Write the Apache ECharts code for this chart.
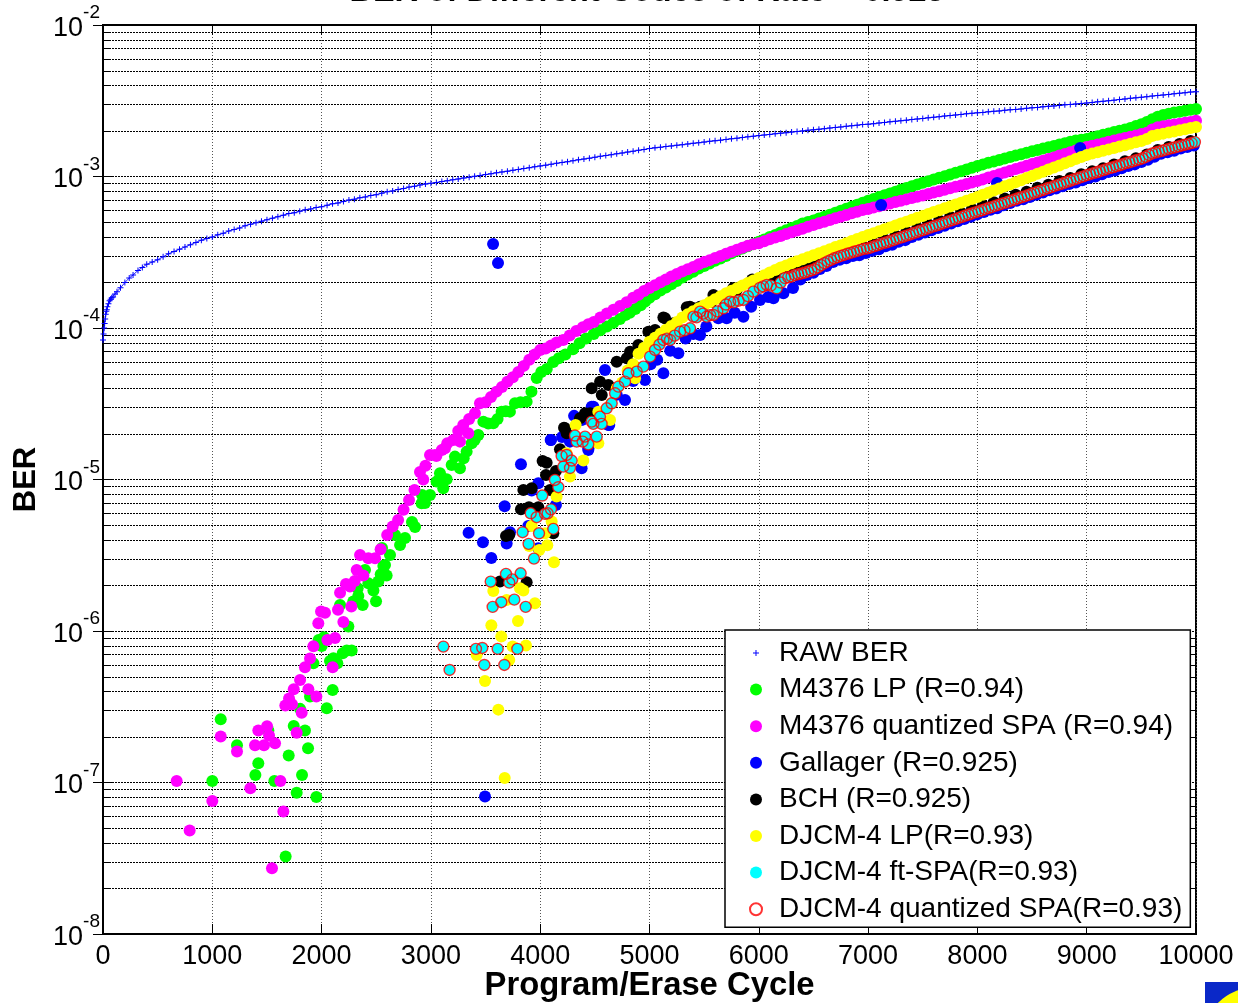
<!DOCTYPE html>
<html>
<head>
<meta charset="utf-8">
<style>html,body{margin:0;padding:0;background:#fff}#c{width:1238px;height:1003px}</style>
<script src="https://cdn.jsdelivr.net/npm/echarts@6/dist/echarts.min.js"></script>
</head>
<body>
<div id="c"></div>
<script>
// All BER values below are stored as log10(BER).
const seriesNames = ['RAW BER','M4376 LP (R=0.94)','M4376 quantized SPA (R=0.94)','Gallager (R=0.925)','BCH (R=0.925)','DJCM-4 LP(R=0.93)','DJCM-4 ft-SPA(R=0.93)','DJCM-4 quantized SPA(R=0.93)'];
const minorGridValues = [2e-8,3e-8,4e-8,5e-8,6e-8,7e-8,8e-8,9e-8,2e-7,3e-7,4e-7,5e-7,6e-7,7e-7,8e-7,9e-7,2e-6,3e-6,4e-6,5e-6,6e-6,7e-6,8e-6,9e-6,2e-5,3e-5,4e-5,5e-5,6e-5,7e-5,8e-5,9e-5,2e-4,3e-4,4e-4,5e-4,6e-4,7e-4,8e-4,9e-4,2e-3,3e-3,4e-3,5e-3,6e-3,7e-3,8e-3,9e-3];

const denseX = [5000,5050,5100,5150,5200,5250,5300,5350,5400,5450,5500,5550,5600,5650,5700,5750,5800,5850,5900,5950,6000,6050,6100,6150,6200,6250,6300,6350,6400,6450,6500,6550,6600,6650,6700,6750,6800,6850,6900,6950,7000,7050,7100,7150,7200,7250,7300,7350,7400,7450,7500,7550,7600,7650,7700,7750,7800,7850,7900,7950,8000,8050,8100,8150,8200,8250,8300,8350,8400,8450,8500,8550,8600,8650,8700,8750,8800,8850,8900,8950,9000,9050,9100,9150,9200,9250,9300,9350,9400,9450,9500,9550,9600,9650,9700,9750,9800,9850,9900,9950,10000];

const rawLow = [[0,-4.08],[5,-4.04],[10,-4.0],[15,-3.97],[20,-3.94],[25,-3.91],[30,-3.89],[35,-3.88],[40,-3.86],[50,-3.84],[60,-3.82],[70,-3.81],[80,-3.80],[92,-3.795],[110,-3.775],[128,-3.76],[160,-3.735],[200,-3.70],[240,-3.67],[275,-3.65],[320,-3.62],[360,-3.60],[400,-3.58],[450,-3.565],[500,-3.55],[550,-3.53],[600,-3.51],[650,-3.495],[700,-3.48],[750,-3.465],[800,-3.45],[850,-3.435],[900,-3.42],[950,-3.41],[1000,-3.40],[1050,-3.385],[1100,-3.375],[1150,-3.36],[1200,-3.35],[1250,-3.34],[1300,-3.325],[1350,-3.315],[1400,-3.305],[1450,-3.295],[1500,-3.285],[1550,-3.275],[1600,-3.265],[1650,-3.255],[1700,-3.245],[1750,-3.24],[1800,-3.23],[1850,-3.22],[1900,-3.215],[1950,-3.205],[2000,-3.20],[2050,-3.19],[2100,-3.18],[2150,-3.175],[2200,-3.165],[2250,-3.155],[2300,-3.15],[2350,-3.14],[2400,-3.135],[2450,-3.125],[2500,-3.12],[2550,-3.11],[2600,-3.10],[2650,-3.095],[2700,-3.085],[2750,-3.08],[2800,-3.07],[2850,-3.065],[2900,-3.056],[2950,-3.05],[3000,-3.045],[3050,-3.04],[3100,-3.033],[3150,-3.028],[3200,-3.022],[3250,-3.016],[3300,-3.01],[3350,-3.005],[3400,-2.999],[3450,-2.993],[3500,-2.987],[3550,-2.982],[3600,-2.976],[3650,-2.97],[3700,-2.965],[3750,-2.959],[3800,-2.953],[3850,-2.948],[3900,-2.942],[3950,-2.936],[4000,-2.93],[4050,-2.925],[4100,-2.919],[4150,-2.913],[4200,-2.907],[4250,-2.902],[4300,-2.896],[4350,-2.89],[4400,-2.885],[4450,-2.879],[4500,-2.873],[4550,-2.867],[4600,-2.862],[4650,-2.856],[4700,-2.85],[4750,-2.845],[4800,-2.839],[4850,-2.833],[4900,-2.827],[4950,-2.822]];
const rawDense = [-2.815,-2.811,-2.807,-2.802,-2.798,-2.794,-2.79,-2.785,-2.781,-2.777,-2.773,-2.768,-2.764,-2.76,-2.755,-2.751,-2.747,-2.743,-2.738,-2.734,-2.73,-2.726,-2.722,-2.718,-2.714,-2.711,-2.707,-2.703,-2.699,-2.695,-2.692,-2.688,-2.684,-2.68,-2.676,-2.673,-2.669,-2.665,-2.661,-2.657,-2.655,-2.651,-2.647,-2.643,-2.639,-2.636,-2.632,-2.628,-2.624,-2.62,-2.617,-2.613,-2.609,-2.605,-2.601,-2.598,-2.594,-2.59,-2.586,-2.583,-2.58,-2.577,-2.573,-2.57,-2.567,-2.563,-2.56,-2.557,-2.554,-2.55,-2.547,-2.544,-2.54,-2.537,-2.534,-2.531,-2.527,-2.524,-2.521,-2.518,-2.515,-2.511,-2.507,-2.504,-2.5,-2.496,-2.492,-2.488,-2.484,-2.481,-2.477,-2.473,-2.469,-2.465,-2.462,-2.458,-2.454,-2.45,-2.447,-2.443,-2.44];

const greenLow = [[1077,-6.583],[1226,-6.754],[1000,-6.990],[1421,-6.873],[1394,-6.950],[1568,-6.990],[1699,-6.822],[1772,-7.067],[1952,-7.095],[1821,-6.950],[1876,-6.774],[1745,-6.627],[1848,-6.657],[1803,-6.514],[2047,-6.510],[2101,-6.389],[1894,-6.433],[1671,-7.489],[1513,-6.657],[1925,-6.213],[2108,-6.180],[2077,-6.198],[2144,-6.213],[2193,-6.147],[2230,-6.129],[2275,-6.129],[1973,-6.059],[2022,-6.041],[2001,-6.099],[2245,-5.971],[2169,-5.828],[2290,-5.806],[2376,-5.828],[2498,-5.804],[2336,-5.769],[2330,-5.718],[2474,-5.733],[2428,-5.685],[2519,-5.674],[2397,-5.597],[2565,-5.571],[2595,-5.634],[2541,-5.626],[2580,-5.564],[2553,-5.452],[2626,-5.498],[2718,-5.432],[2763,-5.386],[2672,-5.366],[2827,-5.281],[2855,-5.314],[2946,-5.155],[2919,-5.102],[2915,-5.157],[2992,-5.102],[3052,-5.014],[3083,-4.959],[3144,-4.999],[3113,-5.058],[3190,-4.904],[3266,-4.926],[3220,-4.849],[3300,-4.86],[3327,-4.816],[3373,-4.761],[3400,-4.74],[3434,-4.706],[3480,-4.618],[3525,-4.63],[3571,-4.629],[3610,-4.60],[3647,-4.552],[3685,-4.55],[3723,-4.552],[3769,-4.497],[3820,-4.49],[3876,-4.486],[3920,-4.42],[3968,-4.33],[4010,-4.29],[4060,-4.27],[4120,-4.225],[4170,-4.20],[4230,-4.175],[4300,-4.14],[4360,-4.10],[4420,-4.07],[4490,-4.04],[4550,-4.015],[4610,-3.99],[4670,-3.965],[4730,-3.94],[4780,-3.915],[4820,-3.90],[4870,-3.875],[4920,-3.85],[4960,-3.825]];
const greenDense = [-3.80,-3.778,-3.752,-3.733,-3.712,-3.69,-3.667,-3.647,-3.628,-3.608,-3.59,-3.574,-3.556,-3.541,-3.524,-3.507,-3.49,-3.476,-3.46,-3.446,-3.43,-3.416,-3.40,-3.386,-3.37,-3.354,-3.34,-3.326,-3.31,-3.30,-3.29,-3.278,-3.265,-3.252,-3.24,-3.226,-3.213,-3.2,-3.187,-3.174,-3.16,-3.148,-3.136,-3.124,-3.112,-3.10,-3.088,-3.076,-3.064,-3.053,-3.042,-3.031,-3.02,-3.009,-2.998,-2.987,-2.976,-2.965,-2.954,-2.942,-2.93,-2.92,-2.91,-2.901,-2.891,-2.881,-2.872,-2.862,-2.853,-2.843,-2.834,-2.825,-2.816,-2.807,-2.798,-2.789,-2.78,-2.771,-2.763,-2.757,-2.752,-2.743,-2.734,-2.725,-2.716,-2.707,-2.698,-2.689,-2.68,-2.667,-2.655,-2.64,-2.622,-2.606,-2.594,-2.585,-2.578,-2.572,-2.566,-2.56,-2.555];

const magentaLow = [[674,-6.990],[1077,-6.697],[1226,-6.796],[1000,-7.122],[793,-7.317],[1546,-7.566],[1650,-7.192],[1348,-7.038],[1623,-6.990],[1391,-6.754],[1473,-6.754],[1574,-6.741],[1519,-6.690],[1421,-6.657],[1501,-6.629],[1772,-6.671],[1818,-6.539],[1668,-6.492],[1729,-6.484],[1702,-6.446],[1745,-6.385],[1879,-6.385],[1952,-6.433],[1803,-6.323],[1848,-6.239],[1894,-6.182],[2101,-6.239],[1925,-6.101],[2053,-6.059],[2123,-6.046],[1970,-5.949],[2199,-5.940],[1995,-5.872],[2031,-5.879],[2150,-5.859],[2272,-5.839],[2169,-5.747],[2223,-5.689],[2260,-5.707],[2303,-5.670],[2382,-5.634],[2321,-5.597],[2428,-5.520],[2489,-5.520],[2352,-5.498],[2540,-5.46],[2600,-5.366],[2650,-5.31],[2700,-5.267],[2750,-5.20],[2800,-5.135],[2850,-5.07],[2900,-4.95],[2930,-5.0],[2950,-4.91],[2992,-4.838],[3037,-4.838],[3050,-4.845],[3100,-4.805],[3129,-4.794],[3150,-4.76],[3205,-4.739],[3250,-4.68],[3266,-4.75],[3296,-4.64],[3342,-4.695],[3350,-4.60],[3403,-4.563],[3449,-4.497],[3500,-4.49],[3550,-4.455],[3600,-4.42],[3650,-4.39],[3700,-4.355],[3750,-4.325],[3800,-4.29],[3850,-4.25],[3900,-4.21],[3950,-4.175],[4000,-4.145],[4050,-4.135],[4100,-4.115],[4150,-4.095],[4210,-4.08],[4270,-4.05],[4330,-4.02],[4390,-3.995],[4440,-3.975],[4490,-3.96],[4550,-3.93],[4610,-3.905],[4670,-3.88],[4730,-3.855],[4790,-3.83],[4850,-3.80],[4900,-3.78],[4950,-3.755]];
const magentaDense = [-3.736,-3.717,-3.698,-3.68,-3.66,-3.643,-3.627,-3.612,-3.597,-3.58,-3.565,-3.552,-3.538,-3.525,-3.51,-3.497,-3.484,-3.47,-3.457,-3.447,-3.44,-3.427,-3.415,-3.402,-3.392,-3.38,-3.368,-3.356,-3.345,-3.332,-3.32,-3.309,-3.298,-3.287,-3.276,-3.265,-3.254,-3.243,-3.232,-3.221,-3.215,-3.205,-3.196,-3.187,-3.178,-3.169,-3.16,-3.151,-3.142,-3.133,-3.125,-3.116,-3.106,-3.097,-3.087,-3.078,-3.068,-3.059,-3.05,-3.04,-3.03,-3.019,-3.007,-2.996,-2.985,-2.974,-2.962,-2.951,-2.94,-2.929,-2.918,-2.907,-2.896,-2.885,-2.874,-2.862,-2.851,-2.84,-2.829,-2.817,-2.805,-2.797,-2.788,-2.78,-2.771,-2.763,-2.754,-2.746,-2.737,-2.729,-2.72,-2.712,-2.69,-2.675,-2.668,-2.662,-2.656,-2.651,-2.646,-2.64,-2.632];

const gallagerPoints = [[3569,-3.446],[3614,-3.571],[7119,-3.188],[8940,-2.812],[8180,-3.043],[3345,-5.351],[3476,-5.414],[3553,-5.518],[3693,-5.423],[3724,-5.348],[3675,-5.177],[3824,-4.900],[4099,-4.739],[3495,-7.093],[3922,-5.073],[3983,-5.025],[4144,-5.168],[3891,-5.307],[3983,-5.454],[4379,-4.926],[4440,-4.805],[4333,-4.596],[4471,-4.519],[4632,-4.640],[4272,-4.750],[4096,-4.739],[4593,-4.277],[4487,-4.519],[4776,-4.475],[4959,-4.343],[5127,-4.299],[5463,-4.046],[5264,-4.167],[5630,-3.936],[5706,-3.936],[5859,-3.925],[6011,-3.815],[6134,-3.804],[6225,-3.771],[4380,-4.607],[4441,-4.794],[4624,-4.640],[4200,-4.72],[4310,-4.58],[4530,-4.60],[4700,-4.44],[4850,-4.35],[5010,-4.24],[5070,-4.21],[5190,-4.15],[5330,-4.07],[5400,-4.04],[5520,-3.99],[5780,-3.90],[5930,-3.86],[6086,-3.795],[6313,-3.736],[6380,-3.68],[6440,-3.65],[6500,-3.635],[6560,-3.61],[6620,-3.59],[6680,-3.565],[6740,-3.55],[6800,-3.54],[6860,-3.525],[6920,-3.52],[6980,-3.505],[7040,-3.49],[7100,-3.48],[7160,-3.46],[7220,-3.45],[7280,-3.43],[7340,-3.42],[7400,-3.40],[7460,-3.385],[7520,-3.37],[7580,-3.355],[7640,-3.34],[7700,-3.325],[7760,-3.31],[7820,-3.295],[7880,-3.28],[7940,-3.265],[8000,-3.25],[8060,-3.235],[8120,-3.22],[8180,-3.21],[8240,-3.19],[8300,-3.175],[8360,-3.16],[8420,-3.15],[8480,-3.135],[8540,-3.12],[8600,-3.105],[8660,-3.09],[8720,-3.08],[8780,-3.065],[8840,-3.05],[8900,-3.04],[8960,-3.025],[9020,-3.01],[9080,-3.0],[9140,-2.985],[9200,-2.97],[9260,-2.96],[9320,-2.945],[9380,-2.93],[9440,-2.92],[9500,-2.905],[9560,-2.89],[9620,-2.87],[9680,-2.85],[9740,-2.84],[9800,-2.83],[9860,-2.815],[9920,-2.805],[9980,-2.795]];

const bchPoints = [[3632,-5.674],[3876,-5.678],[3687,-5.373],[3717,-5.366],[4120,-5.355],[3824,-5.197],[3897,-5.183],[3983,-5.183],[4090,-5.069],[3846,-5.069],[3922,-5.058],[4053,-4.970],[4144,-4.944],[4022,-4.878],[4059,-4.889],[4181,-4.801],[4242,-4.695],[4218,-4.658],[4410,-4.574],[4364,-4.596],[4456,-4.563],[4227,-4.662],[4410,-4.563],[4471,-4.398],[4548,-4.354],[4563,-4.442],[4624,-4.376],[4700,-4.222],[4822,-4.156],[4792,-4.200],[4898,-4.112],[4990,-4.024],[5051,-4.013],[5142,-3.936],[5219,-3.969],[5341,-3.863],[5402,-3.870],[5463,-3.859],[5585,-3.782],[5569,-3.826],[5661,-3.804],[5798,-3.749],[5981,-3.683],[5127,-3.93],[5370,-3.86],[5767,-3.736],[5940,-3.68],[6050,-3.695],[6150,-3.67],[6250,-3.635],[6350,-3.61],[6450,-3.585],[6550,-3.56],[6650,-3.535],[6750,-3.51],[6850,-3.485],[6950,-3.46],[7050,-3.44],[7150,-3.415],[7250,-3.39],[7350,-3.365],[7450,-3.34],[7550,-3.315],[7650,-3.29],[7750,-3.265],[7850,-3.24],[7950,-3.215],[8050,-3.19],[8150,-3.17],[8250,-3.145],[8350,-3.12],[8450,-3.10],[8550,-3.075],[8650,-3.055],[8750,-3.03],[8850,-3.01],[8950,-2.985],[9050,-2.965],[9150,-2.945],[9250,-2.92],[9350,-2.90],[9450,-2.88],[9550,-2.855],[9650,-2.825],[9750,-2.805],[9850,-2.785],[9950,-2.765]];

const yellowLow = [[3675,-6.970],[3617,-6.519],[3495,-6.330],[3717,-6.191],[3419,-6.158],[3748,-6.103],[3870,-6.096],[3644,-6.037],[3553,-5.962],[3797,-5.934],[3952,-5.817],[3571,-5.736],[3693,-5.795],[3815,-5.718],[3846,-5.733],[4126,-5.546],[4065,-5.434],[3992,-5.465],[3900,-5.439],[4105,-5.278],[3922,-5.307],[4044,-5.355],[4395,-4.875],[4150,-5.113],[4272,-4.981],[4242,-4.827],[4324,-4.640],[4532,-4.761],[4639,-4.607],[4532,-4.552],[4868,-4.332],[4650,-4.50],[4700,-4.40],[4750,-4.36],[4800,-4.28],[4850,-4.24],[4900,-4.17],[4950,-4.13]];
const yellowDense = [-4.09,-4.064,-4.038,-4.012,-3.986,-3.96,-3.93,-3.91,-3.89,-3.87,-3.85,-3.83,-3.81,-3.79,-3.77,-3.754,-3.737,-3.72,-3.703,-3.686,-3.67,-3.652,-3.634,-3.617,-3.60,-3.587,-3.573,-3.56,-3.547,-3.533,-3.52,-3.507,-3.493,-3.48,-3.466,-3.453,-3.44,-3.426,-3.413,-3.40,-3.386,-3.374,-3.361,-3.348,-3.336,-3.323,-3.31,-3.298,-3.285,-3.273,-3.26,-3.248,-3.235,-3.223,-3.21,-3.198,-3.185,-3.173,-3.16,-3.148,-3.135,-3.121,-3.107,-3.093,-3.079,-3.065,-3.052,-3.038,-3.024,-3.01,-2.996,-2.982,-2.968,-2.954,-2.941,-2.927,-2.913,-2.899,-2.885,-2.872,-2.858,-2.849,-2.84,-2.83,-2.821,-2.812,-2.802,-2.793,-2.784,-2.774,-2.765,-2.752,-2.732,-2.724,-2.717,-2.71,-2.703,-2.695,-2.688,-2.68,-2.673];

const ringPoints = [[3114,-6.103],[3171,-6.257],[3412,-6.118],[3470,-6.112],[3611,-6.118],[3791,-6.118],[3489,-6.224],[3672,-6.224],[3565,-5.841],[3644,-5.810],[3763,-5.793],[3867,-5.841],[3547,-5.674],[3687,-5.623],[3745,-5.659],[3717,-5.681],[3821,-5.619],[3943,-5.522],[3894,-5.425],[3839,-5.348],[3989,-5.355],[4120,-5.326],[3913,-5.223],[3968,-5.249],[4044,-5.227],[4068,-5.223],[4099,-5.197],[4019,-5.106],[4166,-5.051],[4135,-5.003],[4273,-4.924],[4212,-4.915],[4196,-4.845],[4288,-4.875],[4242,-4.838],[4318,-4.710],[4334,-4.750],[4388,-4.750],[4410,-4.717],[4440,-4.768],[4517,-4.717],[4471,-4.618],[4486,-4.633],[4562,-4.633],[4547,-4.585],[4608,-4.530],[4654,-4.497],[4685,-4.431],[4715,-4.387],[4776,-4.354],[4807,-4.299],[4883,-4.288],[4944,-4.255],[5005,-4.189],[5051,-4.145],[5090,-4.11],[5127,-4.079],[5160,-4.07],[5188,-4.079],[5230,-4.05],[5280,-4.024],[5320,-4.015],[5371,-4.002],[5402,-3.925],[5430,-3.93],[5463,-3.892],[5490,-3.905],[5524,-3.925],[5555,-3.915],[5585,-3.914],[5620,-3.89],[5676,-3.870],[5700,-3.845],[5737,-3.826],[5770,-3.83],[5815,-3.82],[5859,-3.815],[5900,-3.79],[5950,-3.760],[6010,-3.735],[6040,-3.725],[6073,-3.716],[6110,-3.72],[6164,-3.738],[6200,-3.70],[6240,-3.67],[6270,-3.665],[6300,-3.66],[6330,-3.65],[6360,-3.645],[6390,-3.64],[6420,-3.635],[6450,-3.627],[6480,-3.62],[6510,-3.612],[6540,-3.60],[6570,-3.585],[6600,-3.572],[6630,-3.56],[6660,-3.55],[6690,-3.54],[6720,-3.532],[6750,-3.524],[6780,-3.518],[6810,-3.51],[6840,-3.504],[6870,-3.497],[6900,-3.491],[6930,-3.484],[6960,-3.478],[6990,-3.475],[7020,-3.47],[7050,-3.461],[7080,-3.455],[7110,-3.447],[7140,-3.44],[7170,-3.434],[7200,-3.426],[7230,-3.42],[7260,-3.412],[7290,-3.405],[7320,-3.398],[7350,-3.39],[7380,-3.384],[7410,-3.375],[7440,-3.369],[7470,-3.36],[7500,-3.354],[7530,-3.347],[7560,-3.339],[7590,-3.331],[7620,-3.325],[7650,-3.318],[7680,-3.31],[7710,-3.303],[7740,-3.295],[7770,-3.288],[7800,-3.281],[7830,-3.273],[7860,-3.266],[7890,-3.258],[7920,-3.251],[7950,-3.244],[7980,-3.237],[8010,-3.23],[8040,-3.223],[8070,-3.216],[8100,-3.208],[8130,-3.202],[8160,-3.194],[8190,-3.188],[8220,-3.18],[8250,-3.174],[8280,-3.166],[8310,-3.159],[8340,-3.152],[8370,-3.144],[8400,-3.137],[8430,-3.131],[8460,-3.123],[8490,-3.116],[8520,-3.108],[8550,-3.101],[8580,-3.093],[8610,-3.087],[8640,-3.078],[8670,-3.072],[8700,-3.064],[8730,-3.057],[8760,-3.05],[8790,-3.043],[8820,-3.035],[8850,-3.028],[8880,-3.02],[8910,-3.014],[8940,-3.006],[8970,-2.999],[9000,-2.991],[9030,-2.985],[9060,-2.978],[9090,-2.972],[9120,-2.965],[9150,-2.958],[9180,-2.952],[9210,-2.945],[9240,-2.939],[9270,-2.932],[9300,-2.926],[9330,-2.919],[9360,-2.912],[9390,-2.906],[9420,-2.90],[9450,-2.893],[9480,-2.887],[9510,-2.88],[9540,-2.87],[9570,-2.858],[9600,-2.848],[9630,-2.842],[9660,-2.836],[9690,-2.83],[9720,-2.824],[9750,-2.818],[9780,-2.812],[9810,-2.807],[9840,-2.801],[9870,-2.795],[9900,-2.79],[9930,-2.785],[9960,-2.779],[9990,-2.773]];

// log10 read-offs -> plotted BER values
const toBER = pts => pts.map(p => [p[0], Math.pow(10, p[1])]);
const withDense = (low, dense) => toBER(low.concat(dense.map((v, i) => [denseX[i], v])));

const FONT = '"Liberation Sans", Arial, sans-serif';
const plusPath = 'path://M2.5,0h1v2.5h2.5v1h-2.5v2.5h-1v-2.5h-2.5v-1h2.5z';
const plusLegend = 'path://M0,0h.01v.01h-.01z M12,12h.01v.01h-.01z M5.5,3h1v2.5h2.5v1h-2.5v2.5h-1v-2.5h-2.5v-1h2.5z';
const dot = (name, data, color, z, size) => ({
  name, type:'scatter', data, symbol:'circle', symbolSize:size||12, z, clip:false, silent:true, animation:false,
  itemStyle:{color, opacity:1}
});
// one horizontal dotted line per minor log-decade value, placed by the y axis scale
const minorGridItem = (params, api) => {
  const a = api.coord([0, api.value(1)]);
  const b = api.coord([10000, api.value(1)]);
  const y = Math.round(a[1]) + 0.5;
  return {type:'group',silent:true,children:[
    {type:'line',shape:{x1:a[0],y1:y,x2:b[0],y2:y},style:{stroke:'#000',lineWidth:1,lineDash:[2,1]}},
    {type:'line',shape:{x1:a[0],y1:y,x2:a[0]+7,y2:y},style:{stroke:'#000',lineWidth:1}},
    {type:'line',shape:{x1:b[0]-7,y1:y,x2:b[0],y2:y},style:{stroke:'#000',lineWidth:1}}
  ]};
};

const option = {
  animation:false,
  backgroundColor:'#fff',
  title:{text:'BER of Different Codes of Rate = 0.925', left:642, textAlign:'center', top:-29,
    textStyle:{fontFamily:FONT,fontSize:32.4,fontWeight:'bold',color:'#000'}},
  grid:{left:103,top:25,right:42,bottom:69,show:true,borderColor:'#000',borderWidth:2,containLabel:false,outerBoundsMode:'none'},
  legend:{
    orient:'vertical', left:725, top:630, itemWidth:12, itemHeight:12, itemGap:8.6,
    padding:[9,8,4,24], backgroundColor:'#fff', borderColor:'#000', borderWidth:1.5, borderRadius:0,
    selectedMode:false,
    textStyle:{fontFamily:FONT,fontSize:28,color:'#000',padding:[0,0,0,12]},
    data:seriesNames.map((n,i)=>({name:n,icon:i===0?plusLegend:'circle'}))
  },
  xAxis:[{
    type:'value',min:0,max:10000,interval:1000,position:'bottom',
    name:'Program/Erase Cycle',nameLocation:'middle',nameGap:35,nameMoveOverlap:false,
    nameTextStyle:{fontFamily:FONT,fontSize:32.8,fontWeight:'bold',color:'#000'},
    axisLine:{show:true,lineStyle:{color:'#000',width:2}},
    axisTick:{show:true,inside:true,length:10,lineStyle:{color:'#000',width:1}},
    axisLabel:{fontFamily:FONT,fontSize:27,color:'#000',margin:9,hideOverlap:false,showMinLabel:true,showMaxLabel:true,formatter:v=>String(v)},
    splitLine:{show:true,lineStyle:{color:'#555',width:1,type:[1,2]}}
  },{
    type:'value',min:0,max:10000,interval:1000,position:'top',
    axisLine:{show:true,lineStyle:{color:'#000',width:2}},
    axisTick:{show:true,inside:true,length:10,lineStyle:{color:'#000',width:1}},
    axisLabel:{show:false},splitLine:{show:false}
  }],
  yAxis:[{
    type:'log',logBase:10,min:1e-8,max:1e-2,position:'left',
    name:'BER',nameLocation:'middle',nameGap:60,nameRotate:90,
    nameTextStyle:{fontFamily:FONT,fontSize:31,fontWeight:'bold',color:'#000'},
    axisLine:{show:true,lineStyle:{color:'#000',width:2}},
    axisTick:{show:true,inside:true,length:10,lineStyle:{color:'#000',width:1}},
    axisLabel:{margin:3,formatter:v=>'{a|10}{b|'+Math.round(Math.log10(v))+'}',
      rich:{a:{fontFamily:FONT,fontSize:27,color:'#000',padding:[7,0,0,0]},b:{fontFamily:FONT,fontSize:19,color:'#000',padding:[0,0,24,0]}}},
    splitLine:{show:true,lineStyle:{color:'#000',width:1,type:[2,1]}}
  },{
    type:'log',logBase:10,min:1e-8,max:1e-2,position:'right',
    axisLine:{show:true,lineStyle:{color:'#000',width:2}},
    axisTick:{show:true,inside:true,length:10,lineStyle:{color:'#000',width:1}},
    axisLabel:{show:false},splitLine:{show:false}
  }],
  series:[
    {name:'minor grid',type:'custom',coordinateSystem:'cartesian2d',data:minorGridValues.map(v=>[0,v]),encode:{x:0,y:1},z:1,silent:true,animation:false,clip:false,renderItem:minorGridItem},
    {name:seriesNames[0],type:'line',data:withDense(rawLow,rawDense),z:3,clip:false,silent:true,animation:false,
      symbol:plusPath,symbolSize:6,showSymbol:true,showAllSymbol:true,
      lineStyle:{color:'#2222ff',width:1},itemStyle:{color:'#0000ff'}},
    dot(seriesNames[1],withDense(greenLow,greenDense),'#00ff00',4),
    dot(seriesNames[2],withDense(magentaLow,magentaDense),'#ff00ff',5),
    dot(seriesNames[3],toBER(gallagerPoints),'#0000ff',6),
    dot(seriesNames[4],toBER(bchPoints),'#000000',7),
    dot(seriesNames[5],withDense(yellowLow,yellowDense),'#ffff00',8),
    dot(seriesNames[6],toBER(ringPoints),'#00ffff',9,11),
    {name:seriesNames[7],type:'scatter',data:toBER(ringPoints),symbol:'circle',symbolSize:11,z:10,clip:false,silent:true,animation:false,
      itemStyle:{color:'rgba(0,0,0,0)',borderColor:'#ff0000',borderWidth:1.4}}
  ],
  graphic:[
    {type:'rect',left:1205,top:982,z:20,shape:{width:33,height:21},style:{fill:'#0a28c8'}},
    {type:'circle',z:21,shape:{cx:1255,cy:1040,r:52.5},style:{fill:'#ffff00'}}
  ]
};
const chart = echarts.init(document.getElementById('c'),null,{renderer:'canvas'});
chart.setOption(option);
</script>
</body>
</html>
